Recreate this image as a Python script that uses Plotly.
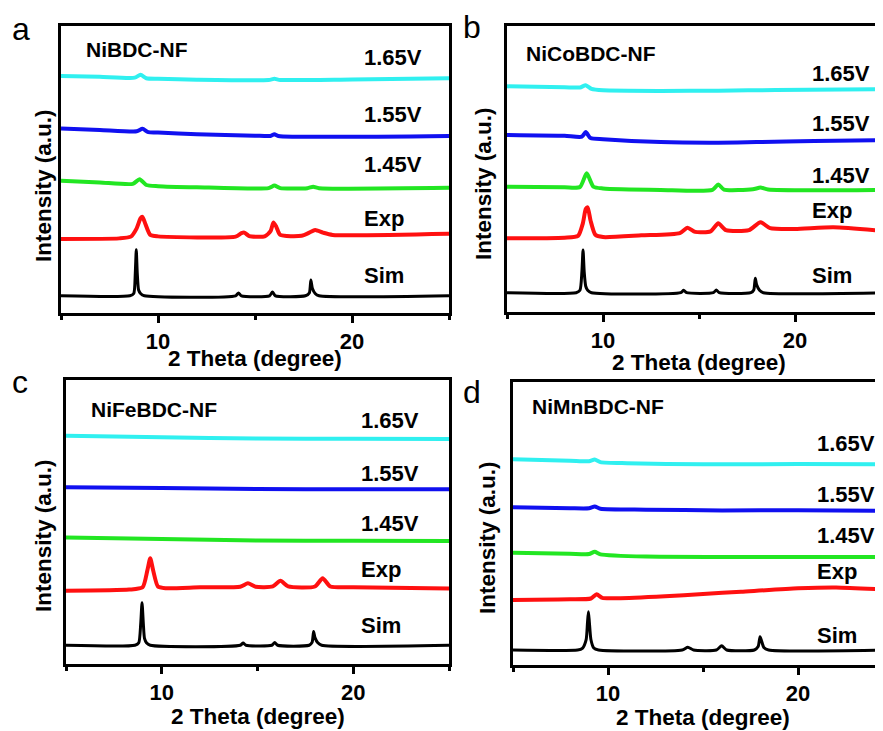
import plotly.graph_objects as go

# XRD patterns, intensity in arbitrary units (0-100 per panel)

# panel a - NiBDC-NF
a_sim_x = [5, 8.55, 8.75, 8.83, 8.88, 8.93, 9.0, 9.1, 9.3, 14.0, 14.15, 14.3, 15.75, 15.9, 16.05, 17.6, 17.8, 17.88, 17.96, 18.1, 18.3, 25]
a_sim_y = [6.0, 6.0, 6.8, 14, 22, 14, 8, 6.8, 6.0, 6.0, 7.0, 6.0, 6.0, 7.3, 6.0, 6.0, 7.0, 11.5, 8.5, 6.8, 6.0, 6.0]
a_exp_x = [5, 8.0, 8.6, 8.9, 9.1, 9.2, 9.35, 9.6, 10.0, 14.0, 14.3, 14.45, 14.7, 15.5, 15.8, 15.95, 16.1, 16.3, 17.4, 17.8, 18.1, 18.5, 19.0, 25]
a_exp_y = [25.8, 26.0, 26.6, 29.5, 33.0, 33.5, 31.0, 27.2, 26.7, 26.6, 27.8, 28.0, 26.8, 26.7, 28.5, 31.5, 30.0, 27.2, 26.9, 28.0, 28.9, 28.0, 27.2, 27.6]
a_145_x = [5, 7, 8.7, 9.05, 9.4, 10, 12, 15.7, 16.0, 16.3, 17.7, 18.0, 18.3, 25]
a_145_y = [46.1, 45.5, 45.0, 46.6, 44.6, 44.2, 43.8, 43.5, 44.4, 43.5, 43.5, 44.0, 43.5, 43.6]
a_155_x = [5, 7, 8.9, 9.2, 9.5, 10, 12, 15, 15.8, 16.0, 16.2, 25]
a_155_y = [64.3, 63.8, 63.3, 64.2, 63.0, 62.9, 62.3, 61.8, 61.7, 62.3, 61.7, 61.7]
a_165_x = [5, 7, 8.8, 9.1, 9.4, 10, 12, 15.7, 16.0, 16.3, 20, 25]
a_165_y = [82.6, 82.3, 82.0, 83.0, 81.8, 81.6, 81.3, 81.2, 81.6, 81.2, 81.4, 81.8]

# panel b - NiCoBDC-NF
b_sim_x = [5, 8.6, 8.8, 8.9, 8.96, 9.02, 9.1, 9.2, 9.4, 14.05, 14.2, 14.35, 15.75, 15.9, 16.05, 17.7, 17.85, 17.93, 18.0, 18.15, 18.35, 25]
b_sim_y = [6.75, 6.75, 7.6, 14, 21.7, 14, 9, 7.6, 6.75, 6.75, 7.6, 6.75, 6.75, 7.7, 6.75, 6.75, 7.7, 11.8, 9.5, 7.6, 6.75, 6.75]
b_exp_x = [5, 8.0, 8.7, 8.95, 9.1, 9.2, 9.35, 9.6, 10, 12, 14.0, 14.4, 14.8, 15.6, 16.0, 16.4, 17.6, 18.2, 18.7, 20, 22, 25]
b_exp_y = [25.8, 26.0, 26.6, 31, 36, 36.6, 32, 27, 26.2, 26.8, 27.6, 29.5, 28.0, 28.2, 31.0, 28.6, 28.6, 31.4, 29.3, 29.0, 29.6, 28.1]
b_145_x = [5, 8.0, 8.8, 9.15, 9.5, 10, 13, 15.7, 16.0, 16.3, 17.8, 18.2, 18.6, 25]
b_145_y = [43.8, 43.6, 43.7, 48.5, 43.8, 43.2, 42.7, 42.7, 44.6, 42.8, 42.9, 43.5, 42.8, 42.7]
b_155_x = [5, 8.0, 8.9, 9.1, 9.35, 10, 13, 16, 18, 21, 25]
b_155_y = [61.9, 61.6, 61.3, 62.9, 60.8, 60.4, 59.4, 59.2, 59.4, 59.8, 60.1]
b_165_x = [5, 8, 8.8, 9.1, 9.4, 10, 13, 16, 19, 25]
b_165_y = [78.9, 78.6, 78.5, 79.3, 78.0, 77.5, 77.3, 77.4, 77.6, 77.9]

# panel c - NiFeBDC-NF
c_sim_x = [5, 8.6, 8.8, 8.9, 8.97, 9.04, 9.1, 9.2, 9.4, 14.1, 14.25, 14.4, 15.75, 15.9, 16.05, 17.7, 17.85, 17.93, 18.0, 18.15, 18.35, 25]
c_sim_y = [6.6, 6.6, 7.5, 14, 21.6, 14, 9, 7.5, 6.6, 6.6, 7.4, 6.6, 6.6, 7.6, 6.6, 6.6, 7.6, 11.4, 9.3, 7.5, 6.6, 6.6]
c_exp_x = [5, 8.3, 9.0, 9.25, 9.4, 9.55, 9.8, 10.2, 12, 14.1, 14.5, 14.9, 15.8, 16.2, 16.6, 18.0, 18.4, 18.8, 20, 25]
c_exp_y = [25.8, 26.2, 27.0, 33, 37.2, 33, 27.3, 26.7, 27.0, 27.2, 28.4, 27.2, 27.3, 29.3, 27.3, 27.3, 30.2, 27.3, 27.0, 26.6]
c_145_x = [5, 10, 15, 20, 25]
c_145_y = [44.5, 44.0, 43.5, 43.4, 43.3]
c_155_x = [5, 10, 15, 20, 25]
c_155_y = [62.2, 62.0, 61.6, 61.5, 61.5]
c_165_x = [5, 10, 15, 20, 25]
c_165_y = [80.4, 79.8, 79.4, 79.3, 79.2]

# panel d - NiMnBDC-NF
d_sim_x = [5, 8.4, 8.65, 8.85, 8.92, 8.97, 9.02, 9.1, 9.25, 9.5, 13.9, 14.2, 14.5, 15.7, 15.98, 16.25, 17.7, 17.9, 18.0, 18.08, 18.2, 18.45, 25]
d_sim_y = [5.3, 5.3, 5.9, 9, 15, 18.8, 15, 9, 6.0, 5.3, 5.3, 6.3, 5.3, 5.3, 6.8, 5.3, 5.3, 6.5, 10.0, 8.5, 6.2, 5.3, 5.3]
d_exp_x = [5, 8, 9.1, 9.4, 9.7, 10.5, 13, 15, 17, 20, 22, 25]
d_exp_y = [23.0, 23.2, 23.5, 25.0, 23.7, 23.6, 24.3, 25.1, 25.9, 27.1, 27.4, 26.5]
d_145_x = [5, 8, 9.0, 9.3, 9.6, 12, 16, 20, 25]
d_145_y = [39.7, 39.3, 39.2, 40.0, 39.1, 38.3, 38.2, 38.2, 38.1]
d_155_x = [5, 8, 9.0, 9.3, 9.6, 12, 16, 20, 25]
d_155_y = [55.7, 55.4, 55.4, 56.0, 55.2, 54.9, 54.6, 54.7, 54.5]
d_165_x = [5, 8, 9.0, 9.3, 9.6, 11, 15, 20, 25]
d_165_y = [72.7, 72.2, 72.0, 72.6, 71.7, 71.3, 70.9, 71.0, 70.9]

samples = ["NiBDC-NF", "NiCoBDC-NF", "NiFeBDC-NF", "NiMnBDC-NF"]
panel_letters = ["a", "b", "c", "d"]
curve_names = ["Sim", "Exp", "1.45V", "1.55V", "1.65V"]
x_ticks = [10, 20]

colors = {"Sim": "black", "Exp": "#FF1010", "1.45V": "#22E622",
          "1.55V": "#1010F0", "1.65V": "#30F0F0"}

panels = [
    {"Sim": (a_sim_x, a_sim_y), "Exp": (a_exp_x, a_exp_y), "1.45V": (a_145_x, a_145_y),
     "1.55V": (a_155_x, a_155_y), "1.65V": (a_165_x, a_165_y)},
    {"Sim": (b_sim_x, b_sim_y), "Exp": (b_exp_x, b_exp_y), "1.45V": (b_145_x, b_145_y),
     "1.55V": (b_155_x, b_155_y), "1.65V": (b_165_x, b_165_y)},
    {"Sim": (c_sim_x, c_sim_y), "Exp": (c_exp_x, c_exp_y), "1.45V": (c_145_x, c_145_y),
     "1.55V": (c_155_x, c_155_y), "1.65V": (c_165_x, c_165_y)},
    {"Sim": (d_sim_x, d_sim_y), "Exp": (d_exp_x, d_exp_y), "1.45V": (d_145_x, d_145_y),
     "1.55V": (d_155_x, d_155_y), "1.65V": (d_165_x, d_165_y)},
]

# the page puts the plot 8px in from the top-left corner, so the figure is
# 875x723 and window pixel positions are shifted by OFF
OFF = 8
W, H = 883 - OFF, 731 - OFF


def px(x):
    return (x - OFF) / W


def py(y):
    return 1 - (y - OFF) / H


boxes = [  # left, right, top, bottom (window px), x max shown
    (61, 449, 26, 313, 25.0),
    (507, 883, 26, 312, 24.58),
    (66, 449, 380, 664, 25.0),
    (513, 883, 382, 665, 24.47),
]
label_x = [20.5, 20.8, 20.3, 20.9]
label_y = [
    {"1.65V": 88.9, "1.55V": 69.0, "1.45V": 51.9, "Exp": 32.8, "Sim": 12.9},
    {"1.65V": 83.5, "1.55V": 66.0, "1.45V": 47.9, "Exp": 35.4, "Sim": 12.6},
    {"1.65V": 85.7, "1.55V": 66.9, "1.45V": 49.3, "Exp": 33.3, "Sim": 13.4},
    {"1.65V": 78.3, "1.55V": 60.4, "1.45V": 45.6, "Exp": 33.0, "Sim": 10.6},
]
title_pos = [(6.2, 91.9), (5.9, 90.4), (6.2, 89.7), (5.9, 91.5)]
letter_pos = [(21, 29), (472, 27), (20, 382), (472, 392)]
xtitle_pos = [(255, 358), (699, 362), (258, 716), (703, 717)]
ytitle_pos = [(43, 186), (483, 183), (43, 536), (487, 537)]

FONT = "Arial, Liberation Sans, sans-serif"

fig = go.Figure()
annotations = []
layout = {}

for i, data in enumerate(panels):
    n = "" if i == 0 else str(i + 1)
    left, right, top, bottom, xmax = boxes[i]
    for name in curve_names:
        xs, ys = data[name]
        fig.add_trace(go.Scatter(
            x=xs, y=ys, mode="lines", xaxis="x" + n, yaxis="y" + n,
            line=dict(color=colors[name], width=3 if name == "Sim" else 4,
                      shape="spline", smoothing=0.6),
            showlegend=False, hoverinfo="skip"))
    layout["xaxis" + n] = dict(
        domain=[px(left), min(px(right), 1)], range=[5, xmax], anchor="y" + n,
        showline=True, linecolor="black", linewidth=3, mirror=True,
        showgrid=False, zeroline=False,
        tickmode="array", tickvals=x_ticks, ticks="outside", ticklen=7,
        tickwidth=3, tickcolor="black",
        minor=dict(tickvals=[5, 15, 25], ticks="outside", ticklen=4,
                   tickwidth=3, tickcolor="black"),
        tickfont=dict(family=FONT, size=22, color="black", weight="bold"))
    layout["yaxis" + n] = dict(
        domain=[py(bottom), py(top)], range=[0, 100], anchor="x" + n,
        showline=True, linecolor="black", linewidth=3,
        mirror=(i % 2 == 0), showgrid=False, zeroline=False,
        showticklabels=False, ticks="")

    for name in curve_names:
        annotations.append(dict(
            x=label_x[i], y=label_y[i][name], xref="x" + n, yref="y" + n,
            text=name, showarrow=False, xanchor="left", yanchor="middle",
            font=dict(family=FONT, size=22, color="black", weight="bold")))
    annotations.append(dict(
        x=title_pos[i][0], y=title_pos[i][1], xref="x" + n, yref="y" + n,
        text=samples[i], showarrow=False, xanchor="left", yanchor="middle",
        font=dict(family=FONT, size=21, color="black", weight="bold")))
    annotations.append(dict(
        x=px(letter_pos[i][0]), y=py(letter_pos[i][1]), xref="paper", yref="paper",
        text=panel_letters[i], showarrow=False, xanchor="center", yanchor="middle",
        font=dict(family=FONT, size=32, color="black")))
    annotations.append(dict(
        x=px(xtitle_pos[i][0]), y=py(xtitle_pos[i][1]), xref="paper", yref="paper",
        text="2 Theta (degree)", showarrow=False, xanchor="center", yanchor="middle",
        font=dict(family=FONT, size=22.5, color="black", weight="bold")))
    annotations.append(dict(
        x=px(ytitle_pos[i][0]), y=py(ytitle_pos[i][1]), xref="paper", yref="paper",
        text="Intensity (a.u.)", showarrow=False, textangle=-90,
        xanchor="center", yanchor="middle",
        font=dict(family=FONT, size=22.5, color="black", weight="bold")))

fig.update_layout(layout)
fig.update_layout(width=W, height=H, margin=dict(l=0, r=0, t=0, b=0),
                  plot_bgcolor="white", paper_bgcolor="white",
                  annotations=annotations)

fig.write_html("out.html")
